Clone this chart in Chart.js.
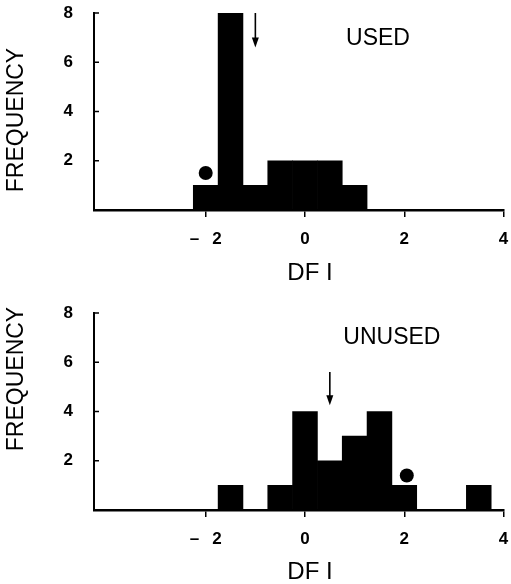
<!DOCTYPE html>
<html><head><meta charset="utf-8">
<script src="https://cdn.jsdelivr.net/npm/chart.js@4/dist/chart.umd.min.js"></script>
<style>
html,body{margin:0;padding:0;background:#fff;overflow:hidden;width:511px;height:584px}
canvas{position:absolute;left:0;display:block}
#c1{top:0}
#c2{top:290px}
</style></head><body>
<canvas id="c1" width="511" height="290"></canvas>
<canvas id="c2" width="511" height="300"></canvas>
<script>
// ---- data ----
const xTicks = [-2, 0, 2, 4];
const yTicks = [2, 4, 6, 8];
const usedBins = [-2, -1.5, -1, -0.5, 0, 0.5, 1];
const usedFreq = [1, 8, 1, 2, 2, 2, 1];
const unusedBins = [-1.5, -0.5, 0, 0.5, 1, 1.5, 2, 3.5];
const unusedFreq = [1, 1, 4, 2, 3, 4, 1, 1];
const usedDot = [-2.0, 1.5];
const unusedDot = [2.05, 1.4];
const usedArrow = [-1.0, 8.0, 6.6];     // x, from, to
const unusedArrow = [0.5, 5.6, 4.25];
const usedLabel = ['USED', 1.47, 6.95];
const unusedLabel = ['UNUSED', 1.75, 7.0];
const yTitle = 'FREQUENCY';
const xTitle = 'DF I';

const FAMILY = '"Liberation Sans", Arial, Helvetica, sans-serif';

const annot = {
  id: 'annot',
  afterDatasetsDraw(chart, args, o) {
    const {ctx} = chart;
    const x = chart.scales.x, y = chart.scales.y;
    ctx.save();
    ctx.fillStyle = '#000';
    ctx.strokeStyle = '#000';
    // inward y tick marks
    ctx.lineWidth = 1.5;
    yTicks.forEach(v => {
      const py = y.getPixelForValue(v);
      ctx.beginPath();
      ctx.moveTo(chart.chartArea.left, py);
      ctx.lineTo(chart.chartArea.left + 5, py);
      ctx.stroke();
    });
    // arrow
    const ax = x.getPixelForValue(o.arrow[0]);
    const a1 = y.getPixelForValue(o.arrow[1]);
    const a2 = y.getPixelForValue(o.arrow[2]);
    ctx.lineWidth = 1.6;
    ctx.beginPath();
    ctx.moveTo(ax, a1);
    ctx.lineTo(ax, a2 - 8);
    ctx.stroke();
    ctx.beginPath();
    ctx.moveTo(ax - 3.5, a2 - 10);
    ctx.lineTo(ax + 3.5, a2 - 10);
    ctx.lineTo(ax, a2);
    ctx.closePath();
    ctx.fill();
    // panel label
    ctx.font = '23px ' + FAMILY;
    ctx.textAlign = 'center';
    ctx.textBaseline = 'middle';
    ctx.fillText(o.label[0], x.getPixelForValue(o.label[1]), y.getPixelForValue(o.label[2]));
    // axis titles
    ctx.font = '24px ' + FAMILY;
    ctx.fillText(xTitle, o.xTitlePos[0], o.xTitlePos[1]);
    ctx.save();
    ctx.translate(o.yTitlePos[0], o.yTitlePos[1]);
    ctx.rotate(-Math.PI / 2);
    ctx.font = '23px ' + FAMILY;
    ctx.fillText(yTitle, 0, 0);
    ctx.restore();
    ctx.restore();
  }
};

function tickFmt(v) {
  return v < 0 ? '\u2013\u2002 ' + Math.abs(v) : String(v);
}

function zeroPad(s) {
  s.paddingTop = 0; s.paddingBottom = 0; s.paddingLeft = 0; s.paddingRight = 0;
}

function makeChart(id, bins, freq, dot, arrow, label, topPad, xTitlePos, yTitlePos) {
  return new Chart(document.getElementById(id), {
    type: 'bar',
    data: {
      datasets: [
        {
          type: 'scatter',
          data: [{x: dot[0], y: dot[1]}],
          pointRadius: 7,
          pointBackgroundColor: '#000',
          pointBorderWidth: 0,
          order: 0
        },
        {
          type: 'bar',
          data: bins.map((b, i) => ({x: b, y: freq[i]})),
          backgroundColor: '#000',
          borderWidth: 0,
          barPercentage: 1,
          categoryPercentage: 1,
          grouped: false,
          order: 1
        }
      ]
    },
    options: {
      responsive: false,
      animation: false,
      devicePixelRatio: 1,
      layout: {autoPadding: false, padding: {left: 0, right: 7.4, top: topPad, bottom: 0}},
      plugins: {
        legend: {display: false},
        tooltip: {enabled: false},
        annot: {arrow, label, xTitlePos, yTitlePos}
      },
      scales: {
        x: {
          type: 'linear',
          min: -4.25,
          max: 4.0,
          offset: false,
          afterBuildTicks: s => { s.ticks = xTicks.map(v => ({value: v})); },
          afterFit: s => { s.height = 80; zeroPad(s); },
          grid: {display: true, offset: false, drawOnChartArea: false, drawTicks: true, tickLength: 7, color: '#000', lineWidth: 1.5},
          border: {display: true, color: '#000', width: 2.5},
          ticks: {padding: 12, autoSkip: false, maxRotation: 0, color: '#000',
                  font: {family: FAMILY, size: 17, weight: 'bold'}, callback: tickFmt}
        },
        y: {
          type: 'linear',
          min: 0,
          max: 8,
          afterBuildTicks: s => { s.ticks = yTicks.map(v => ({value: v})); },
          afterFit: s => { s.width = 94; zeroPad(s); },
          grid: {display: true, drawOnChartArea: false, drawTicks: false},
          border: {display: true, color: '#000', width: 2},
          ticks: {padding: 21, color: '#000', font: {family: FAMILY, size: 17, weight: 'bold'}}
        }
      }
    },
    plugins: [annot]
  });
}

makeChart('c1', usedBins, usedFreq, usedDot, usedArrow, usedLabel, 13, [310, 273], [17, 120]);
makeChart('c2', unusedBins, unusedFreq, unusedDot, unusedArrow, unusedLabel, 23, [310, 282], [17, 89]);
</script>
</body></html>
